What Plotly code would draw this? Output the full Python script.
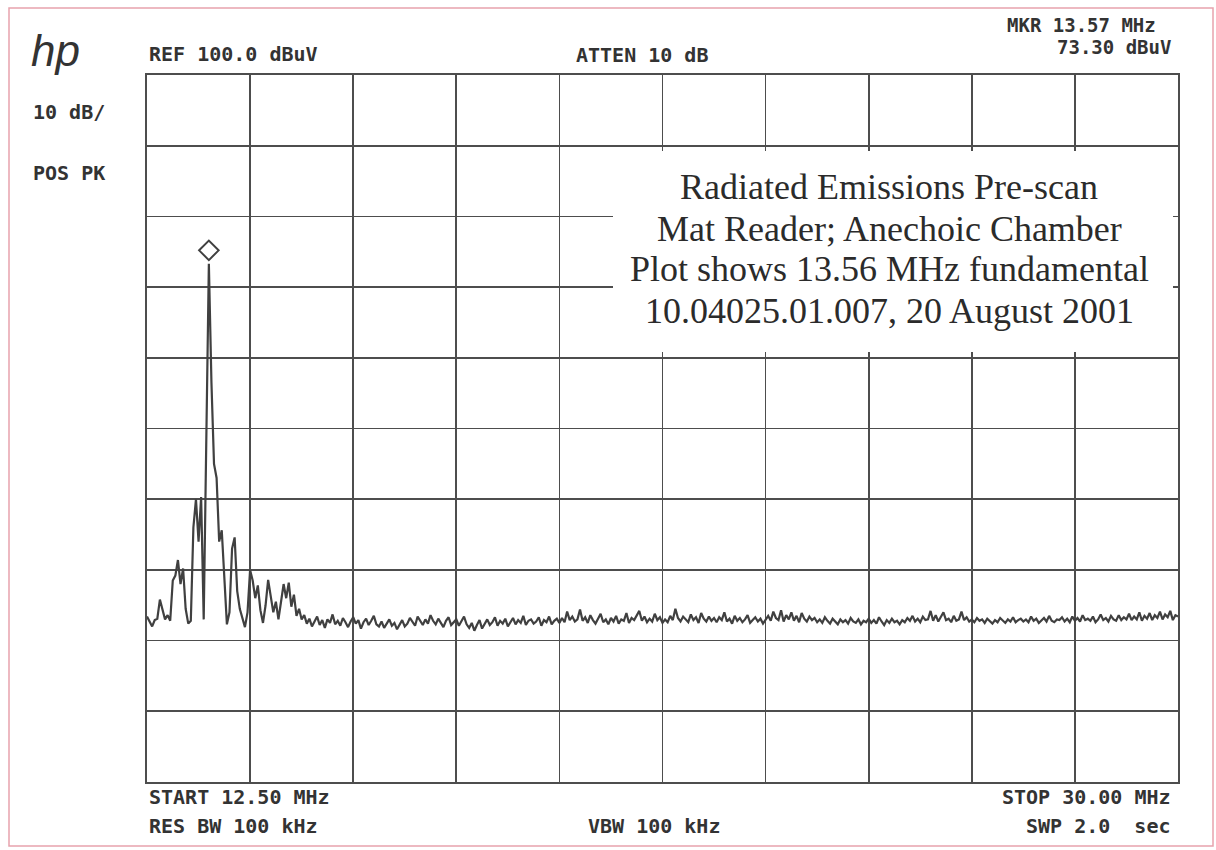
import numpy as np
import plotly.graph_objects as go

# ---------------- data ----------------
START_MHZ = 12.5
STOP_MHZ = 30.0
REF_DBUV = 100.0
DB_PER_DIV = 10
N_DIV = 10

# trace levels (dBuV), 401 sweep points from START to STOP
level_dbuv = [
    23.4, 22.6, 22.0, 22.9, 23.1, 25.8, 24.2, 23.0, 23.6, 22.8,
    28.5, 29.2, 31.4, 28.0, 30.2, 24.5, 22.4, 22.8, 36.0, 40.0,
    34.0, 40.3, 23.0, 45.0, 73.3, 56.5, 45.0, 43.0, 34.0, 35.6,
    28.0, 22.3, 24.0, 33.0, 34.6, 27.0, 24.5, 23.0, 21.9, 24.0,
    30.0, 28.5, 26.0, 27.8, 24.3, 22.5, 25.0, 28.6, 26.0, 24.0,
    25.5, 23.0, 25.5, 28.0, 26.0, 28.2, 24.8, 26.5, 23.5, 24.5,
    23.0,
    23.6, 22.4, 23.1, 22.0, 22.8, 23.4, 22.2, 22.9, 21.8, 23.0, 22.5, 23.7, 22.3, 22.8, 22.1, 23.2, 22.6, 21.9, 22.7, 23.3,
    22.4, 22.9, 21.7, 22.6, 23.1, 22.2, 22.8, 23.5, 22.3, 22.0, 22.7, 21.8, 22.4, 23.0, 22.1, 22.5, 21.6, 22.3, 22.9, 22.0,
    22.4, 23.2, 22.6, 22.1, 23.4, 22.7, 22.2, 23.0, 22.4, 23.6, 22.8, 22.3, 23.1, 22.5, 21.9, 22.8, 23.3, 22.2, 22.6, 23.0,
    22.1, 22.7, 23.4, 22.3, 21.8, 22.5, 21.4, 22.2, 22.9, 21.7, 22.4, 23.0, 22.2, 22.6, 23.3, 22.1, 22.8, 22.4, 23.1, 22.0,
    22.6, 23.2, 22.3, 22.9, 22.5, 23.5, 22.2, 22.8, 23.0, 22.4, 22.7, 23.3, 22.1, 22.9, 22.6, 23.4, 22.3, 22.8, 23.1, 22.5,
    23.2, 22.6, 24.1, 22.9, 23.4, 22.7, 23.0, 24.4, 22.8, 23.3, 22.5, 23.6, 22.9, 22.4, 23.1, 23.8, 22.6, 23.0, 22.3, 23.2,
    22.7, 23.5, 22.4, 23.0, 22.8, 23.9, 22.5, 23.2, 22.9, 23.6, 24.2, 22.8, 23.4, 22.6, 23.1, 22.7, 23.8, 22.9, 23.3, 22.5,
    23.0, 22.6, 23.5, 22.9, 24.5, 23.2, 22.7, 23.4, 23.0, 22.6, 23.7, 22.9, 23.3, 22.5, 23.9, 23.1, 22.7, 23.4, 22.8, 23.2,
    22.6, 23.3, 22.9, 24.0, 22.7, 23.1, 22.4, 23.5, 22.8, 23.2, 22.6, 23.0, 23.6, 22.5, 22.9, 23.3, 22.7, 23.1, 22.4, 23.0,
    23.5, 22.8, 24.1, 23.2, 22.9, 24.3, 22.7, 23.6, 23.0, 24.0, 22.8, 23.5, 22.6, 23.9, 23.1, 22.7, 23.4, 22.9, 23.2, 22.6,
    23.0, 22.5, 23.3, 22.8, 22.4, 23.1, 22.7, 22.3, 23.0, 22.6, 22.9, 22.4, 23.2, 22.7, 22.5, 23.0, 22.3, 22.8, 22.6, 23.1,
    22.5, 22.9, 22.4, 23.3, 22.7, 22.2, 22.9, 22.5, 23.1, 22.6, 22.8, 22.3, 22.9, 22.6, 23.2, 22.8, 23.5, 22.7, 23.1, 22.6,
    23.4, 22.9, 23.0, 24.2, 22.8, 23.6, 22.7, 23.3, 24.0, 22.9, 23.1, 22.6, 23.5, 22.8, 23.0, 24.1, 22.9, 23.3, 22.7, 23.0,
    22.6, 23.2, 22.8, 23.0, 22.5, 23.1, 22.7, 22.4, 22.9, 22.6, 23.2, 22.8, 22.5, 23.0, 22.7, 23.3, 22.6, 22.9, 23.1, 22.7,
    23.0, 22.6, 23.4, 22.8, 23.1, 22.5, 22.9, 23.2, 22.7, 23.5, 22.8, 22.6, 23.0, 22.9, 23.3, 22.7, 23.1, 22.6, 23.4, 22.8,
    23.2, 22.7, 23.6, 22.9, 23.1, 22.8, 23.4, 22.6, 23.0, 23.7, 22.9, 23.2, 22.7, 23.5, 23.0, 22.8, 23.6, 22.9, 23.3, 23.0,
    23.8, 22.9, 23.4, 23.0, 24.0, 22.8, 23.5, 23.1, 23.9, 22.9, 23.6, 23.2, 24.1, 23.0, 23.7, 23.3, 24.2, 22.9, 23.6, 23.4,
]

freq_mhz = np.linspace(START_MHZ, STOP_MHZ, len(level_dbuv))

header_left = "REF 100.0 dBuV"
header_mid = "ATTEN 10 dB"
marker_lines = ["MKR 13.57 MHz", "73.30 dBuV"]
side_labels = ["10 dB/", "POS PK"]
footer_left = ["START 12.50 MHz", "RES BW 100 kHz"]
footer_mid = "VBW 100 kHz"
footer_right = ["STOP 30.00 MHz", "SWP 2.0  sec"]
note_lines = [
    "Radiated Emissions Pre-scan",
    "Mat Reader; Anechoic Chamber",
    "Plot shows 13.56 MHz fundamental",
    "10.04025.01.007, 20 August 2001",
]

# ---------------- layout geometry (pixels) ----------------
W, H = 1216, 850
L, R, T, B = 147, 1178, 75, 782


def px(x):
    return (x - L) / (R - L)


def py(y):
    return (B - y) / (B - T)


INK = "#333333"
GRID = "#4d4d4d"
MONO = "DejaVu Sans Mono"
SERIF = "Liberation Serif"

fig = go.Figure()

fig.add_trace(go.Scatter(
    x=freq_mhz, y=level_dbuv, mode="lines",
    line=dict(color="#404040", width=2.2),
    hoverinfo="skip", showlegend=False,
))

# marker diamond drawn just above the peak
ipk = int(np.argmax(level_dbuv))
fig.add_trace(go.Scatter(
    x=[freq_mhz[ipk]], y=[level_dbuv[ipk] + 1.9], mode="markers",
    marker=dict(symbol="diamond-open", size=15, color="#404040",
                line=dict(width=2, color="#404040")),
    hoverinfo="skip", showlegend=False,
))

ann = []


def label(text, x, y, xanchor="left", size=20, family=MONO, color=INK, **kw):
    ann.append(dict(
        text=text, x=px(x), y=py(y), xref="paper", yref="paper",
        xanchor=xanchor, yanchor="middle", showarrow=False, borderpad=0,
        font=dict(family=family, size=size, color=color, **kw),
    ))


label("<i>hp</i>", 30, 50, size=44, family="Liberation Sans")
label(side_labels[0], 32, 112, weight="bold")
label(side_labels[1], 32, 173, weight="bold")
label(header_left, 148, 54, weight="bold")
label(header_mid, 642, 55, xanchor="center", weight="bold")
label(marker_lines[0], 1157, 25, xanchor="right", size=19, weight="bold")
label(marker_lines[1], 1172, 47, xanchor="right", size=19, weight="bold")
label(footer_left[0], 148, 797, weight="bold")
label(footer_left[1], 148, 826, weight="bold")
label(footer_mid, 654, 826, xanchor="center", weight="bold")
label(footer_right[0], 1172, 797, xanchor="right", weight="bold")
label(footer_right[1], 1172, 826, xanchor="right", weight="bold")

for ln, yb in zip(note_lines, [187, 229, 269, 311]):
    label(ln, 889, yb, xanchor="center", size=36, family=SERIF, color="#2b2b2b")

shapes = [
    # white box behind the note, hides the grid there
    dict(type="rect", xref="paper", yref="paper",
         x0=px(613), x1=px(1173), y0=py(352), y1=py(151),
         fillcolor="white", line=dict(width=0), layer="above"),
    # pink page border
    dict(type="rect", xref="paper", yref="paper",
         x0=px(9), x1=px(1213), y0=py(846), y1=py(8),
         line=dict(color="#e7a3ad", width=1.5), fillcolor="rgba(0,0,0,0)",
         layer="below"),
]

axis_common = dict(
    showgrid=True, gridcolor=GRID, gridwidth=1.6,
    showline=True, linecolor=GRID, linewidth=1.6, mirror=True,
    zeroline=False, showticklabels=False, ticks="", fixedrange=True,
)

fig.update_layout(
    width=W, height=H,
    margin=dict(l=L, r=W - R, t=T, b=H - B),
    paper_bgcolor="white", plot_bgcolor="white",
    xaxis=dict(range=[START_MHZ, STOP_MHZ], dtick=(STOP_MHZ - START_MHZ) / N_DIV,
               tick0=START_MHZ, **axis_common),
    yaxis=dict(range=[REF_DBUV - DB_PER_DIV * N_DIV, REF_DBUV], dtick=DB_PER_DIV,
               tick0=0, **axis_common),
    annotations=ann,
    shapes=shapes,
    showlegend=False,
)

fig.write_html(
    "out.html",
    config={"displayModeBar": False, "staticPlot": True},
    post_script="document.body.style.margin='0px';document.body.style.overflow='hidden';",
)
